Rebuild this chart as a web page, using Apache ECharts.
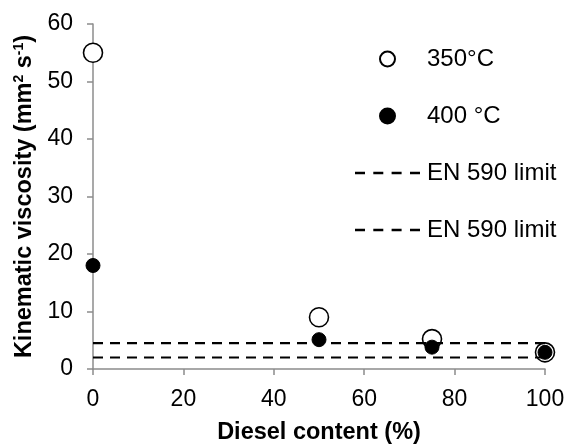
<!DOCTYPE html>
<html>
<head>
<meta charset="utf-8">
<script src="https://cdn.jsdelivr.net/npm/echarts@6/dist/echarts.min.js"></script>
<style>
html,body{margin:0;padding:0;background:#fff;}
#chart{width:566px;height:445px;}
</style>
</head>
<body>
<div id="chart"></div>
<script>
// Data
const dieselContent = [0, 50, 75, 100];
const visc350 = [55, 9, 5.2, 2.9];
const visc400 = [18, 5.1, 3.8, 2.9];
const limitUpper = 4.5;
const limitLower = 2.0;
const limitRange = [0, 100];
const seriesNames = ['350°C', '400 °C', 'EN 590 limit', 'EN 590 limit'];
const xTicks = { min: 0, max: 100, interval: 20 };
const yTicks = { min: 0, max: 60, interval: 10 };

const FONT = '"Liberation Sans", Arial, Helvetica, sans-serif';
const chart = echarts.init(document.getElementById('chart'), null, { renderer: 'canvas' });

const pts = (xs, ys) => xs.map((x, i) => [x, ys[i]]);
const limitLine = v => limitRange.map(x => [x, v]);
const labelMap = { s350: seriesNames[0], s400: seriesNames[1], limA: seriesNames[2], limB: seriesNames[3] };
// legend icon: four dashes (same look as the dashed limit lines)
const dashIcon = 'path://M0,0h10v2.5h-10z M18.3,0h10v2.5h-10z M36.6,0h10v2.5h-10z M55,0h10v2.5h-10z';

const option = {
  backgroundColor: '#fff',
  animation: false,
  textStyle: { fontFamily: FONT },
  grid: { left: 93, right: 21, top: 24, bottom: 76, containLabel: false, outerBoundsMode: 'none' },
  legend: {
    orient: 'vertical',
    left: 350,
    top: 42,
    itemWidth: 65,
    itemHeight: 15,
    itemGap: 33,
    data: [
      { name: 's350' },
      { name: 's400' },
      { name: 'limA', icon: dashIcon },
      { name: 'limB', icon: dashIcon }
    ],
    formatter: n => labelMap[n],
    textStyle: { fontSize: 24, color: '#000', fontFamily: FONT, padding: [0, 0, 0, 2] }
  },
  xAxis: {
    type: 'value',
    min: xTicks.min, max: xTicks.max, interval: xTicks.interval,
    name: 'Diesel content (%)',
    nameLocation: 'middle',
    nameGap: 52,
    nameTextStyle: { fontSize: 23.5, fontWeight: 'bold', color: '#000', fontFamily: FONT },
    axisLine: { lineStyle: { color: '#8c8c8c', width: 1.5 } },
    axisTick: { show: true, length: 6, inside: false, lineStyle: { color: '#8c8c8c', width: 1.5 } },
    axisLabel: { fontSize: 23, color: '#000', margin: 19, fontFamily: FONT },
    splitLine: { show: false }
  },
  yAxis: {
    type: 'value',
    min: yTicks.min, max: yTicks.max, interval: yTicks.interval,
    name: 'Kinematic viscosity (mm{sup|2} s{sup|-1})',
    nameLocation: 'middle',
    nameGap: 45,
    nameTextStyle: {
      fontSize: 23.5, fontWeight: 'bold', color: '#000', fontFamily: FONT,
      rich: { sup: { fontSize: 14, fontWeight: 'bold', color: '#000', verticalAlign: 'top', fontFamily: FONT } }
    },
    axisLine: { show: true, lineStyle: { color: '#8c8c8c', width: 1.5 } },
    axisTick: { show: true, length: 6, inside: false, lineStyle: { color: '#8c8c8c', width: 1.5 } },
    axisLabel: { fontSize: 23, color: '#000', margin: 20, fontFamily: FONT },
    splitLine: { show: false }
  },
  series: [
    {
      name: 's350', type: 'scatter', data: pts(dieselContent, visc350),
      symbol: 'circle', symbolSize: 19, z: 2,
      itemStyle: { color: '#fff', borderColor: '#000', borderWidth: 1.6, opacity: 1 }
    },
    {
      name: 's400', type: 'scatter', data: pts(dieselContent, visc400),
      symbol: 'circle', symbolSize: 14, z: 3,
      itemStyle: { color: '#000', borderColor: '#000', borderWidth: 1, opacity: 1 }
    },
    {
      name: 'limA', type: 'line', data: limitLine(limitUpper), showSymbol: false, symbol: 'none', z: 4,
      lineStyle: { color: '#000', width: 2.2, type: [10, 7] }, itemStyle: { color: '#000' }
    },
    {
      name: 'limB', type: 'line', data: limitLine(limitLower), showSymbol: false, symbol: 'none', z: 4,
      lineStyle: { color: '#000', width: 2.2, type: [10, 7] }, itemStyle: { color: '#000' }
    }
  ]
};
chart.setOption(option);
</script>
</body>
</html>
